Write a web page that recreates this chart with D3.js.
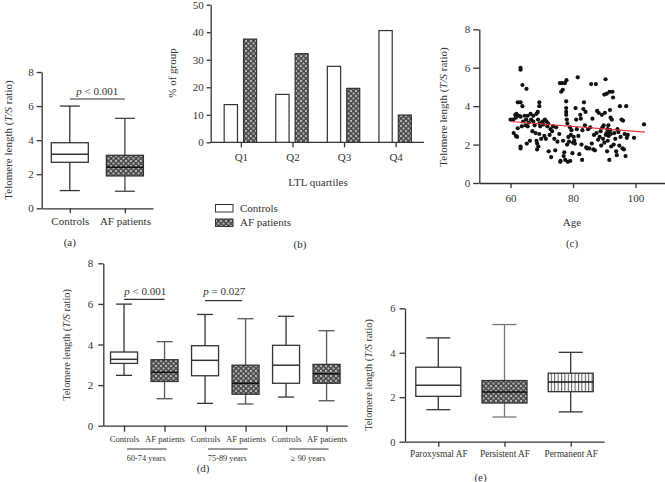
<!DOCTYPE html>
<html><head><meta charset="utf-8">
<script src="https://cdn.jsdelivr.net/npm/d3@7"></script>
<style>
body{margin:0;background:#fff;}
svg{display:block;font-family:"Liberation Serif","Times New Roman",serif;}
text{fill:#333;}
</style></head>
<body><svg id="c" width="665" height="482"></svg>
<script>
// ---------- DATA ----------
// (a) overall
const groupsA = ["Controls", "AF patients"];
const minA = [1.04, 1.0], q1A = [2.7, 1.9], medA = [3.17, 2.41], q3A = [3.85, 3.11], maxA = [6.0, 5.28];
// (b) LTL quartiles
const quartiles = ["Q1", "Q2", "Q3", "Q4"];
const controlsPct = [13.7, 17.4, 27.6, 40.6];
const afPct = [37.5, 32.2, 19.6, 9.9];
// (c) scatter age vs telomere length
const ages = [60.0,60.9,61.0,61.5,61.7,61.9,61.7,62.1,62.3,62.3,62.7,63.2,63.2,63.2,63.2,63.2,63.2,63.6,63.8,63.8,64.0,64.5,64.8,65.1,65.0,65.5,65.5,65.2,65.8,66.2,66.4,66.6,67.0,67.3,67.3,67.7,68.0,68.3,68.3,68.5,68.7,68.8,68.5,68.9,69.2,69.2,69.2,69.3,69.5,69.8,70.2,70.5,70.8,71.0,71.3,71.5,71.8,72.0,72.2,72.5,72.8,73.0,73.3,73.6,74.0,74.3,74.6,75.0,
75.6,75.8,75.9,76.0,76.2,76.5,76.7,76.8,77.0,77.2,77.4,77.5,77.8,77.8,77.8,77.8,77.9,78.0,78.1,78.2,78.3,78.5,78.7,79.0,79.1,79.3,79.5,79.8,80.0,80.2,80.4,80.6,80.8,81.0,81.2,81.5,81.7,82.0,82.3,82.5,82.7,82.9,83.0,83.3,83.5,83.8,84.0,84.2,84.5,84.8,
85.2,85.5,85.8,86.0,86.2,86.5,86.7,87.0,87.3,87.5,87.7,88.0,88.2,88.5,88.8,89.0,89.2,89.4,89.6,89.8,90.0,90.0,90.2,90.4,90.5,90.7,90.8,90.9,91.0,91.1,91.3,91.4,91.5,91.6,91.7,91.8,91.9,92.0,92.1,92.2,92.4,92.6,92.8,93.0,93.2,93.5,93.8,94.0,94.2,94.5,94.8,95.0,95.2,95.5,95.8,96.0,96.3,96.5,96.8,97.0,97.2,97.5,99.5,102.7];
const tlRatio = [3.3,3.3,2.6,3.55,3.4,3.6,2.45,2.4,4.2,2.85,3.5,3.45,4.2,6.0,5.9,1.9,1.8,2.95,4.0,5.1,3.2,3.5,3.0,4.9,3.3,3.5,2.95,2.05,3.15,2.2,3.6,3.3,2.7,3.5,3.2,3.0,2.6,3.6,2.2,2.05,3.7,3.3,1.75,1.9,4.2,4.0,2.55,3.1,2.95,2.3,3.2,3.05,2.45,3.3,2.3,3.2,2.95,3.1,1.65,2.5,2.8,1.35,2.7,2.95,2.3,1.7,2.9,2.15,
2.55,5.2,1.1,1.15,4.75,5.2,4.85,2.2,1.4,1.6,5.2,1.2,4.25,3.9,3.7,3.55,5.35,3.3,2.0,3.1,1.1,2.4,2.15,2.9,1.15,2.5,2.75,1.55,2.1,2.4,2.2,2.05,3.9,3.3,2.8,5.5,2.45,1.5,3.55,3.35,2.0,1.2,2.75,3.85,4.2,3.0,3.7,1.85,1.8,2.8,
1.8,2.9,5.15,2.05,3.35,1.75,2.5,1.7,5.15,2.6,3.75,2.25,3.65,2.4,2.7,1.95,3.55,2.9,2.3,3.0,4.6,2.1,3.65,5.4,2.5,2.6,4.65,1.65,2.8,2.2,3.0,2.45,2.65,1.2,4.75,3.8,2.75,3.4,2.55,1.9,3.3,4.75,4.45,2.0,2.6,2.3,1.65,1.45,2.8,2.65,1.95,4.0,2.4,3.3,1.8,3.25,1.75,2.55,1.4,4.0,2.35,2.5,2.35,3.05];
const regAge = [60, 103], regTL = [3.2, 2.65];
// (d) by age group
const groupsD = ["Controls", "AF patients", "Controls", "AF patients", "Controls", "AF patients"];
const ageGroups = ["60-74 years", "75-89 years", "\u2265 90 years"];
const minD = [2.48, 1.33, 1.10, 1.07, 1.41, 1.23];
const q1D  = [3.07, 2.18, 2.46, 1.55, 2.09, 2.09];
const medD = [3.27, 2.63, 3.22, 2.09, 2.98, 2.56];
const q3D  = [3.63, 3.25, 3.94, 2.98, 3.96, 3.02];
const maxD = [5.99, 4.14, 5.48, 5.27, 5.39, 4.68];
// (e) AF type
const typesE = ["Paroxysmal AF", "Persistent AF", "Permanent AF"];
const minE = [1.44, 1.11, 1.34], q1E = [2.04, 1.74, 2.25], medE = [2.54, 2.24, 2.69], q3E = [3.35, 2.75, 3.08], maxE = [4.67, 5.27, 4.02];

// ---------- DRAW ----------
const svg = d3.select("#c");
const INK = "#333";
const fmtInt = d3.format("d");
const defs = svg.append("defs");
const chk = defs.append("pattern").attr("id","chk").attr("patternUnits","userSpaceOnUse").attr("width",5).attr("height",5);
chk.append("rect").attr("width",5).attr("height",5).attr("fill","#4e4e4e");
chk.append("rect").attr("x",0).attr("y",0).attr("width",2).attr("height",2).attr("fill","#b5b5b5");
chk.append("rect").attr("x",2.5).attr("y",2.5).attr("width",2).attr("height",2).attr("fill","#b5b5b5");
const str = defs.append("pattern").attr("id","str").attr("patternUnits","userSpaceOnUse").attr("width",3.4).attr("height",4);
str.append("rect").attr("width",3.4).attr("height",4).attr("fill","#fff");
str.append("rect").attr("x",0).attr("width",1).attr("height",4).attr("fill","#555");

function styleAxis(g, fs){
  g.selectAll("path.domain").attr("stroke",INK).attr("stroke-width",1.3);
  g.selectAll(".tick line").attr("stroke",INK).attr("stroke-width",1.3);
  g.selectAll(".tick text").attr("fill",INK).style("font-size",fs+"px").style("font-family","Liberation Serif, serif");
}
function yTitle(x, y, fs){
  const t = svg.append("text").attr("transform",`translate(${x},${y}) rotate(-90)`)
    .attr("text-anchor","middle").style("font-size",fs+"px");
  t.append("tspan").text("Telomere length (");
  t.append("tspan").style("font-style","italic").text("T/S");
  t.append("tspan").text(" ratio)");
}
function pLabel(x, y, rest, fs){
  const t = svg.append("text").attr("x",x).attr("y",y).attr("text-anchor","middle").style("font-size",fs+"px");
  t.append("tspan").style("font-style","italic").text("p");
  t.append("tspan").text(rest);
}
function boxes(x, y, n, mn, q1, md, q3, mx, fills, bw, cw, wcol){
  for(let i=0;i<n;i++){
    const c = x(i);
    const g = svg.append("g");
    const wc = wcol[i];
    g.append("line").attr("x1",c).attr("x2",c).attr("y1",y(mx[i])).attr("y2",y(mn[i])).attr("stroke",wc).attr("stroke-width",1.3);
    g.append("line").attr("x1",c-cw/2).attr("x2",c+cw/2).attr("y1",y(mx[i])).attr("y2",y(mx[i])).attr("stroke",wc).attr("stroke-width",1.3);
    g.append("line").attr("x1",c-cw/2).attr("x2",c+cw/2).attr("y1",y(mn[i])).attr("y2",y(mn[i])).attr("stroke",wc).attr("stroke-width",1.3);
    g.append("rect").attr("x",c-bw/2).attr("width",bw).attr("y",y(q3[i])).attr("height",y(q1[i])-y(q3[i]))
      .attr("fill",fills[i]).attr("stroke",INK).attr("stroke-width",1.3);
    g.append("line").attr("x1",c-bw/2).attr("x2",c+bw/2).attr("y1",y(md[i])).attr("y2",y(md[i])).attr("stroke",fills[i]==="#fff"?INK:"#111").attr("stroke-width",1.5);
  }
}

// ===== Panel (a) =====
{
  const x = d3.scalePoint().domain(groupsA).range([41.7,153]).padding(0.51);
  const y = d3.scaleLinear().domain([0,8]).range([208.3,72]);
  const ga = svg.append("g").attr("transform","translate(41.7,0)").call(d3.axisLeft(y).tickValues([0,2,4,6,8]).tickFormat(fmtInt).tickSize(5).tickSizeOuter(0));
  styleAxis(ga, 11);
  const gx = svg.append("g").attr("transform","translate(0,208.3)").call(d3.axisBottom(x).tickSize(5).tickSizeOuter(0).tickPadding(4));
  styleAxis(gx, 11);
  const xi = i => x(groupsA[i]);
  boxes(xi, y, 2, minA, q1A, medA, q3A, maxA, ["#fff","url(#chk)"], 37, 20, [INK,"#444"]);
  svg.append("line").attr("x1",xi(0)).attr("x2",xi(1)).attr("y1",99).attr("y2",99).attr("stroke",INK).attr("stroke-width",1.2);
  pLabel((xi(0)+xi(1))/2, 95, " < 0.001", 11);
  yTitle(12, 140, 11);
  svg.append("text").attr("x",xi(0)).attr("y",246).attr("text-anchor","middle").style("font-size","11px").text("(a)");
}

// ===== Panel (b) =====
{
  const x = d3.scalePoint().domain(quartiles).range([212.5,424]).padding(0.55);
  const y = d3.scaleLinear().domain([0,50]).range([142.3,4.7]);
  const gy = svg.append("g").attr("transform","translate(210.7,0)").call(d3.axisLeft(y).ticks(5).tickFormat(fmtInt).tickSize(4).tickSizeOuter(0).tickPadding(3));
  styleAxis(gy, 11);
  svg.append("line").attr("x1",210.7).attr("x2",424).attr("y1",142.3).attr("y2",142.3).attr("stroke",INK).attr("stroke-width",1.3);
  const gx = svg.append("g").attr("transform","translate(0,142.3)").call(d3.axisBottom(x).tickSize(5).tickSizeOuter(0).tickPadding(6));
  gx.select("path.domain").remove();
  styleAxis(gx, 11);
  svg.append("g").selectAll("rect").data(controlsPct).join("rect")
    .attr("x",(d,i)=>x(quartiles[i])-16.7).attr("width",13.3)
    .attr("y",d=>y(d)).attr("height",d=>y(0)-y(d))
    .attr("fill","#fff").attr("stroke",INK).attr("stroke-width",1.2);
  svg.append("g").selectAll("rect").data(afPct).join("rect")
    .attr("x",(d,i)=>x(quartiles[i])+2.7).attr("width",13)
    .attr("y",d=>y(d)).attr("height",d=>y(0)-y(d))
    .attr("fill","url(#chk)").attr("stroke",INK).attr("stroke-width",1.2);
  svg.append("text").attr("x",318).attr("y",186).attr("text-anchor","middle").style("font-size","11px").text("LTL quartiles");
  svg.append("text").attr("transform","translate(176,73) rotate(-90)").attr("text-anchor","middle").style("font-size","11px").text("% of group");
  // legend
  const lg = [{t:"Controls",f:"#fff"},{t:"AF patients",f:"url(#chk)"}];
  lg.forEach((d,i)=>{
    svg.append("rect").attr("x",215.5).attr("y",204.5+i*14.5).attr("width",17.5).attr("height",7.5).attr("fill",d.f).attr("stroke",INK).attr("stroke-width",1);
    svg.append("text").attr("x",240).attr("y",211.5+i*14.5).style("font-size","11px").text(d.t);
  });
  svg.append("text").attr("x",300).attr("y",248).attr("text-anchor","middle").style("font-size","11px").text("(b)");
}

// ===== Panel (c) =====
{
  const x = d3.scaleLinear().domain([50,110]).range([479.3,666.8]);
  const y = d3.scaleLinear().domain([0,8]).range([183,29.3]);
  const gy = svg.append("g").attr("transform","translate(479.3,0)").call(d3.axisLeft(y).tickValues([0,2,4,6,8]).tickFormat(fmtInt).tickSize(6).tickSizeOuter(0).tickPadding(3));
  styleAxis(gy, 11);
  const gx = svg.append("g").attr("transform","translate(0,183)").call(d3.axisBottom(x).tickValues([60,80,100]).tickFormat(fmtInt).tickSize(5).tickSizeOuter(0).tickPadding(6));
  styleAxis(gx, 11);
  svg.append("g").selectAll("circle").data(ages).join("circle")
    .attr("cx",d=>x(d)).attr("cy",(d,i)=>y(tlRatio[i])).attr("r",2.1).attr("fill","#111");
  svg.append("line").attr("x1",x(regAge[0])).attr("x2",x(regAge[1])).attr("y1",y(regTL[0])).attr("y2",y(regTL[1]))
    .attr("stroke","#e8303a").attr("stroke-width",1.2);
  svg.append("text").attr("x",572).attr("y",226).attr("text-anchor","middle").style("font-size","11px").text("Age");
  yTitle(447, 107, 11);
  svg.append("text").attr("x",572).attr("y",247).attr("text-anchor","middle").style("font-size","11px").text("(c)");
}

// ===== Panel (d) =====
{
  const idx = d3.range(groupsD.length);
  const x = d3.scalePoint().domain(idx).range([103.3,347.3]).padding(0.512);
  const y = d3.scaleLinear().domain([0,8]).range([425.7,263.3]);
  const gy = svg.append("g").attr("transform","translate(103.3,0)").call(d3.axisLeft(y).tickValues([0,2,4,6,8]).tickFormat(fmtInt).tickSize(5).tickSizeOuter(0).tickPadding(5));
  styleAxis(gy, 11);
  const gx = svg.append("g").attr("transform","translate(0,425.7)").call(d3.axisBottom(x).tickSize(6).tickSizeOuter(0).tickPadding(4).tickFormat(i=>groupsD[i]));
  styleAxis(gx, 8.6);
  const fills = groupsD.map(g => g==="Controls" ? "#fff" : "url(#chk)");
  boxes(i=>x(i), y, 6, minD, q1D, medD, q3D, maxD, fills, 27, 16, groupsD.map(g=>g==="Controls"?INK:"#555"));
  ageGroups.forEach((a,k)=>{
    const c0 = x(2*k), c1 = x(2*k+1);
    svg.append("line").attr("x1",c0+3).attr("x2",c1+2).attr("y1",449).attr("y2",449).attr("stroke",INK).attr("stroke-width",1);
    svg.append("text").attr("x",(c0+c1)/2+2).attr("y",460.5).attr("text-anchor","middle").style("font-size","8.3px").text(a);
  });
  svg.append("line").attr("x1",x(0)).attr("x2",x(1)).attr("y1",299.3).attr("y2",299.3).attr("stroke",INK).attr("stroke-width",1.2);
  pLabel((x(0)+x(1))/2+1, 294.5, " < 0.001", 11);
  svg.append("line").attr("x1",x(2)).attr("x2",x(3)-3.5).attr("y1",300.7).attr("y2",300.7).attr("stroke",INK).attr("stroke-width",1.2);
  pLabel((x(2)+x(3))/2-1, 295, " = 0.027", 11);
  yTitle(70, 345, 10.3);
  svg.append("text").attr("x",x(2)-2).attr("y",471.5).attr("text-anchor","middle").style("font-size","11px").text("(d)");
}

// ===== Panel (e) =====
{
  const x = d3.scalePoint().domain(typesE).range([405,604]).padding(0.503);
  const y = d3.scaleLinear().domain([0,6]).range([441.7,308.3]);
  const gy = svg.append("g").attr("transform","translate(405,0)").call(d3.axisLeft(y).tickValues([0,2,4,6]).tickFormat(fmtInt).tickSize(5.5).tickSizeOuter(0).tickPadding(4));
  styleAxis(gy, 10.5);
  const gx = svg.append("g").attr("transform","translate(0,441.7)").call(d3.axisBottom(x).tickSize(5).tickSizeOuter(0).tickPadding(4));
  styleAxis(gx, 9.3);
  const xi = i => x(typesE[i]);
  boxes(xi, y, 3, minE, q1E, medE, q3E, maxE, ["#fff","url(#chk)","url(#str)"], 45, 24, [INK,"#777",INK]);
  yTitle(372, 375, 10.3);
  svg.append("text").attr("x",xi(1)-24).attr("y",480.5).attr("text-anchor","middle").style("font-size","11px").text("(e)");
}
</script></body></html>
